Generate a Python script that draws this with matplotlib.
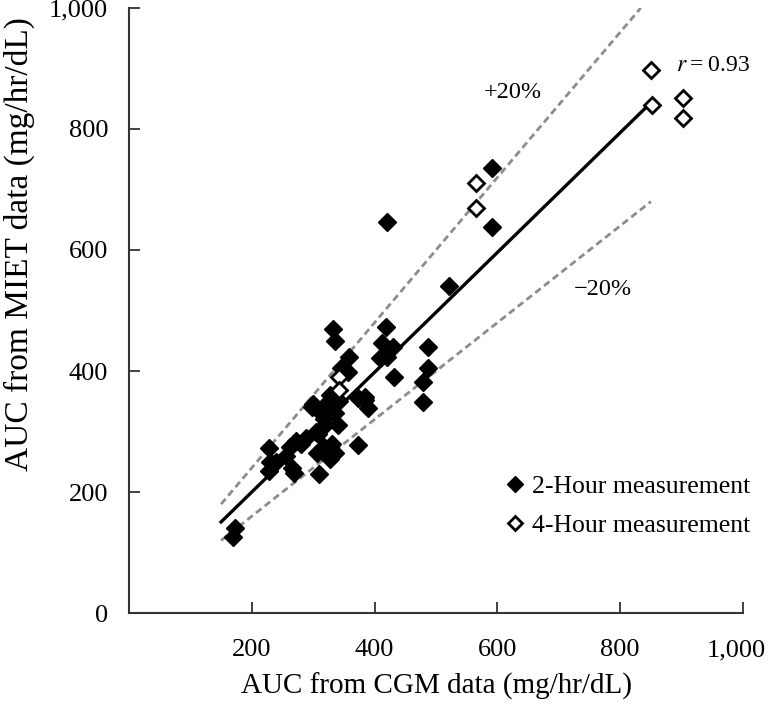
"""
AUC from MIET vs AUC from CGM scatter plot
"""
import matplotlib
matplotlib.use("Agg")
import matplotlib.pyplot as plt
import matplotlib.transforms as mtransforms
import numpy as np

plt.rcParams['font.family'] = ['Liberation Serif', 'DejaVu Serif']
plt.rcParams['mathtext.fontset'] = 'stix'

# 2-hour measurement (filled diamonds)
cgm_2h = [170, 172, 228, 230, 228, 240, 255, 262, 265, 268, 272, 280, 288,
          298, 300, 305, 308, 306, 310, 312, 318, 320, 322, 325, 328, 318, 327,
          327, 335, 335, 340, 342, 330, 332, 336, 345, 358, 357, 373, 384, 390,
          373, 385, 419, 412, 420, 409, 430, 432, 420, 479, 479, 487, 487, 521,
          591, 591]
miet_2h = [125, 140, 235, 250, 272, 250, 260, 275, 240, 232, 285, 280, 290,
           340, 345, 300, 296, 265, 230, 330, 320, 310, 340, 350, 360, 275, 255,
           275, 265, 330, 310, 350, 280, 470, 450, 405, 423, 398, 355, 357, 339,
           278, 352, 473, 446, 423, 421, 440, 390, 647, 349, 382, 405, 440, 540,
           638, 735]

# 4-hour measurement (open diamonds)
cgm_4h = [342, 342, 565, 565, 850, 852, 903, 903]
miet_4h = [390, 369, 711, 669, 898, 840, 851, 818]

# regression fit and +/-20% lines
fit_x = [150, 850]
fit_slope, fit_icept = 0.99, 2
band = 0.20

fig = plt.figure(figsize=(7.7, 7.12), dpi=100)
ax = fig.add_axes([0.1675, 0.139, 0.7975, 0.8498])

fx = np.array(fit_x, dtype=float)
ax.plot(fx, fit_slope * fx + fit_icept, color='black', lw=2.4, zorder=2)
ux = np.array([150, 1000 / (1 + band)])
ax.plot(ux, (1 + band) * ux, color='#8c8c8c', lw=2, ls=(0, (2.5, 1.5)), zorder=1)
lx = np.array([150, 850])
ax.plot(lx, (1 - band) * lx, color='#8c8c8c', lw=2, ls=(0, (2.5, 1.5)), zorder=1)

ax.plot(cgm_2h, miet_2h, ls='none', marker='D', ms=9, mfc='black', mec='black',
        mew=1, label='2-Hour measurement', zorder=3)
ax.plot(cgm_4h, miet_4h, ls='none', marker='D', ms=8.5, mfc='white', mec='black',
        mew=2, label='4-Hour measurement', zorder=4)

ax.text(625, 861, '+20%', fontsize=17.5, ha='center', va='center')
ax.text(772, 534, '\u221220%', fontsize=17.5, ha='center', va='center')
ax.text(890, 905, '$r$\u2009=\u20090.93', fontsize=17, ha='left', va='center',
        family=['Liberation Serif', 'DejaVu Sans'])

ax.set_xlim(0, 1000)
ax.set_ylim(0, 1000)
ax.set_xticks([200, 400, 600, 800, 1000])
ax.set_yticks([0, 200, 400, 600, 800, 1000])
ax.xaxis.set_major_formatter(matplotlib.ticker.FuncFormatter(lambda v, p: f'{int(v):,}'))
ax.yaxis.set_major_formatter(matplotlib.ticker.FuncFormatter(lambda v, p: f'{int(v):,}'))
ax.tick_params(axis='both', direction='in', length=8, width=1.3, color='#333333',
               labelsize=19)
ax.tick_params(axis='x', pad=19)
ax.tick_params(axis='y', pad=15)

# keep the last x tick label inside the figure edge
last = ax.get_xticklabels()[-1]
last.set_transform(last.get_transform() +
                   mtransforms.ScaledTranslation(-5 / 72, 0, fig.dpi_scale_trans))

for side in ['top', 'right']:
    ax.spines[side].set_visible(False)
for side in ['left', 'bottom']:
    ax.spines[side].set_linewidth(1.5)
    ax.spines[side].set_color('#333333')

ax.set_xlabel('AUC from CGM data (mg/hr/dL)', fontsize=21, labelpad=8)
ax.set_ylabel('AUC from MIET data (mg/hr/dL)', fontsize=24)
ax.yaxis.set_label_coords(-0.153, 0.61)

ax.legend(loc='center left', bbox_to_anchor=(0.585, 0.177), frameon=False,
          fontsize=18.5, handletextpad=0.1, labelspacing=0.65, markerscale=0.85,
          handlelength=1.1, borderpad=0)

fig.savefig('out.png', dpi=100)
